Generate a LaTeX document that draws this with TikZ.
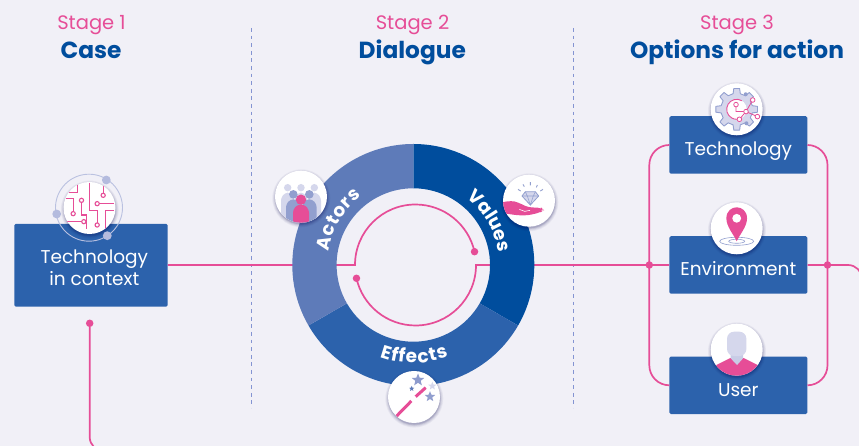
\documentclass[tikz,border=0pt]{standalone}
\usepackage{fontspec}
\setmainfont{Poppins}
\usetikzlibrary{calc,decorations.text,shapes.geometric}
\definecolor{bg}{HTML}{F1F0F7}
\definecolor{pinkc}{HTML}{E64D97}
\definecolor{navy}{HTML}{004D9D}
\definecolor{midb}{HTML}{2C62AC}
\definecolor{softb}{HTML}{5E7BB9}
\definecolor{lilac}{HTML}{D5D7EC}
\definecolor{perib}{HTML}{929FCF}
\definecolor{dashc}{HTML}{8494D2}
\tikzset{
  boxst/.style={fill=midb,rounded corners=1.5pt,text=white,minimum width=138pt,inner xsep=0pt,inner ysep=0pt,font=\fontsize{18.5}{22}\selectfont},
  optbox/.style={boxst,text height=39.75pt,text depth=17.75pt},
  stagest/.style={text=pinkc,anchor=base,inner sep=0pt,font=\fontsize{19.5}{22}\selectfont},
  titlest/.style={text=navy,anchor=base,inner sep=0pt,font=\bfseries\fontsize{23.3}{26}\selectfont},
  conn/.style={draw=pinkc,line width=1.7pt},
  dotst/.style={circle,fill=pinkc,inner sep=0pt,minimum size=7.5pt},
  iconst/.style={circle,fill=white,inner sep=0pt,minimum size=52pt},
  divider/.style={draw=dashc,line width=1.3pt,dash pattern=on 3.8pt off 3.8pt},
  starst/.style={star,star points=5,star point ratio=2.3,inner sep=0pt},
  ringlabel/.style={decorate,decoration={text along path,text align=fit to path,text={|\bfseries\fontsize{18.5}{20}\selectfont\color{white}|#1}}},
}
\newcommand{\sector}[3]{\fill[#1] ($(ringc)+(#2:121pt)$) arc[start angle=#2,end angle=#3,radius=121pt] -- ($(ringc)+(#3:76.7pt)$) arc[start angle=#3,end angle=#2,radius=76.7pt] -- cycle;}
\newcommand{\softshadow}[1]{\foreach \rr/\op in {29/.04,28.2/.05,27.4/.06,26.7/.08,26/.1}{\fill[black!70!blue,opacity=\op] ($(#1)+(0.3pt,-1.6pt)$) circle[radius=\rr pt];}}
\newcommand{\iconopen}[3]{\coordinate (#1s) at (#2,#3);\softshadow{#1s}\node[iconst] (#1) at (#1s) {};}
\newenvironment{iconart}[3]{\begin{scope}\clip (#1) circle[radius=26pt];\begin{scope}[shift={(#1)},x=0.33333pt,y=-0.33333pt]\begin{scope}[shift={(-#2,-#3)}]}{\end{scope}\end{scope}\end{scope}}
\newcommand{\person}[5]{\fill[#5] (#1,#2) circle[radius=#3 pt];\fill[#5,rounded corners=3pt] (#1-#4,200) -- (#1-#4,#2+30) -- (#1-#3*2,#2+15) -- (#1+#3*2,#2+15) -- (#1+#4,#2+30) -- (#1+#4,200) -- cycle;}
\begin{document}
\begin{tikzpicture}[x=1pt,y=1pt]
\useasboundingbox (0,0) rectangle (859,446);
\clip (0,0) rectangle (859,446);
\fill[bg] (0,0) rectangle (859,446);
% coordinates
\coordinate (ringc) at (413.3,181);
\coordinate (innerc) at (415.5,181);
\coordinate (arcL) at (355,181);
\coordinate (arcR) at (476,181);
\coordinate (busLtop) at (649.3,181);
\coordinate (busRtop) at (827.5,181);
\coordinate (exitR) at (862,165);
\coordinate (exitB) at (120,-5);
\coordinate (d1a) at (251.7,418);
\coordinate (d1b) at (251.7,38);
\coordinate (d2a) at (573.7,418);
\coordinate (d2b) at (573.7,38);
% dividers
\draw[divider] (d1a) -- (d1b);
\draw[divider] (d2a) -- (d2b);
% headers
\node[stagest] (s1) at (91.5,416.5) {Stage 1};
\node[titlest] (t1) at (91,387) {Case};
\node[stagest] (s2) at (412.5,416.5) {Stage 2};
\node[titlest] (t2) at (412.3,387) {Dialogue};
\node[stagest] (s3) at (737,416.5) {Stage 3};
\node[titlest] (t3) at (737,387) {Options for action};
% boxes
\node[optbox] (tech) at (738.3,301) {Technology};
\node[optbox] (env) at (738.3,181) {Environment};
\node[optbox] (usr) at (738.3,60.7) {User};
\node[boxst,minimum width=153.4pt,minimum height=82.7pt,align=center] (ctx) at (91,180.7) {};
\node[text=white,inner sep=0pt,align=center,font=\fontsize{18.5}{21.5}\selectfont] (ctxt) at (94.3,178.5) {Technology\\in context};
% connectors
\coordinate (ctxE) at (ctx.east |- arcL);
\draw[conn] (ctxE) -- (arcL) arc[start angle=180,end angle=12.7,radius=60.5pt] node[dotst] (dotA) {};
\draw[conn] (env.west) -- (arcR) arc[start angle=0,end angle=-167.3,radius=60.5pt] node[dotst] (dotB) {};
\draw[conn,rounded corners=20pt] (tech.west) -- (tech.west -| busLtop) -- (usr.west -| busLtop) -- (usr.west);
\draw[conn,rounded corners=20pt] (tech.east) -- (tech.east -| busRtop) -- (usr.east -| busRtop) -- (usr.east);
\draw[conn,rounded corners=14pt] (env.east) -- (env.east -| exitR) -- (exitR);
\node[dotst] (jL) at (busLtop) {};
\node[dotst] (jR) at (busRtop) {};
\node[dotst] (start) at (89.7,122.7) {};
\draw[conn,rounded corners=14pt] (start) -- (start |- exitB) -- (exitB);
% ring
\sector{navy}{90}{-30}
\sector{midb}{-30}{-150}
\sector{softb}{-150}{-270}
\path[ringlabel={Actors}] ($(ringc)+(171:86pt)$) arc[start angle=171,end angle=127,radius=86pt];
\path[ringlabel={Values}] ($(ringc)+(52:86pt)$) arc[start angle=52,end angle=8,radius=86pt];
\path[ringlabel={Effects}] ($(ringc)+(250:98pt)$) arc[start angle=250,end angle=291,radius=98pt];
% ---- context icon
\coordinate (ctxic) at (89.5,238);
\softshadow{ctxic}
\node[iconst] (ctxicon) at (ctxic) {};
\draw[lilac!60!perib,line width=.9pt] (89,238.3) circle[radius=33.5pt];
\fill[lilac!50!perib] (106.3,266) circle[radius=4.4pt] (56.7,232) circle[radius=4.4pt] (107.3,210.3) circle[radius=4.4pt];
\begin{iconart}{ctxicon}{118}{114}
\draw[pinkc,line width=1.1pt] (118,38) -- (118,122) -- (141,122) -- (141,158);
\draw[pinkc,line width=1.1pt] (57,67) -- (82,67) -- (82,40);
\draw[pinkc,line width=1.1pt] (47,85) -- (70,85) -- (70,125);
\draw[pinkc,line width=1.1pt] (94,91) -- (94,135) -- (108,135) -- (108,178);
\draw[pinkc,line width=1.1pt] (141,101) -- (190,101);
\draw[pinkc,line width=1.1pt] (159,38) -- (159,76);
\draw[pinkc,line width=1.1pt] (101,155) -- (50,155);
\draw[pinkc,line width=1.1pt] (190,122) -- (165,122) -- (165,178);
\foreach \px/\py in {69/131,94/91,141/101,159/76,101/155,141/165}{\draw[pinkc,fill=white,line width=1.1pt] (\px,\py) circle[radius=2.1pt];}
\end{iconart}
% ---- actors
\iconopen{icA}{301}{249.3}
\begin{iconart}{icA}{93}{92}
\person{53}{65}{3.7}{20}{lilac}
\person{133}{65}{3.7}{20}{lilac}
\person{93}{65}{3.7}{20}{lilac}
\person{70}{85}{4.3}{22}{perib}
\person{118}{85}{4.3}{22}{perib}
\person{93}{101}{5.2}{24}{pinkc}
\end{iconart}
% ---- values
\iconopen{icV}{529}{245.3}
\begin{iconart}{icV}{93}{92}
\draw[perib,fill=lilac,line width=.8pt,line join=round] (82,65) -- (112,65) -- (122,78) -- (97,105) -- (72,78) -- cycle;
\draw[perib,line width=.6pt] (72,78) -- (122,78) (82,65) -- (88,78) -- (97,105) -- (106,78) -- (112,65);
\draw[perib,line width=.9pt] (60,58) -- (68,63) (75,43) -- (79,50) (97,36) -- (97,46) (118,45) -- (115,52) (135,58) -- (127,63);
\fill[pinkc,rounded corners=4pt] (5,98) -- (40,92) -- (60,97) -- (90,112) -- (130,113) -- (137,120) -- (128,127) -- (90,136) -- (60,136) -- (5,128) -- cycle;
\draw[white,line width=.6pt] (64,118) -- (80,124) -- (96,121);
\end{iconart}
% ---- effects
\iconopen{icE}{414}{49}
\begin{iconart}{icE}{90}{93}
\draw[pinkc,line width=3pt] (38,150) -- (82,105) (95,92) -- (125,65);
\node[starst,fill=perib!90!softb,minimum size=13pt] (st1) at (102,42) {};
\node[starst,fill=softb,minimum size=5.5pt] (st2) at (83,68) {};
\node[starst,fill=lilac,minimum size=8.5pt] (st3) at (145,60) {};
\node[starst,fill=perib,minimum size=11pt] (st4) at (138,92) {};
\end{iconart}
% ---- gear
\iconopen{icT}{736.7}{336.7}
\begin{scope}[shift={(icT)}]
\draw[perib,fill=lilac,line width=.9pt,line join=round] (-13:16pt)
 \foreach \a in {0,45,...,315}{ -- (\a-13:16pt) -- (\a-8:21pt) -- (\a+8:21pt) -- (\a+13:16pt) } -- cycle;
\fill[white] (0,0) circle[radius=10pt];
\draw[pinkc,line width=.9pt] (60:10pt) arc[start angle=60,end angle=300,radius=10pt];
\draw[pinkc,line width=.8pt] (-0.7,4.7) -- (-0.7,-2.3) -- (9.3,-2.3) -- (16,9.3) (9.3,-2.3) -- (20.7,-7.3) (9.3,-2.3) -- (2.7,-10);
\fill[perib] (9,15) circle[radius=2pt] (9.7,-14) circle[radius=2pt];
\foreach \px/\py in {-0.7/4.7,9.3/-2.3,16/9.3,20.7/-7.3,2.7/-10}{\draw[pinkc,fill=white,line width=.8pt] (\px,\py) circle[radius=2.3pt];}
\end{scope}
% ---- pin
\iconopen{icP}{736.7}{217.7}
\begin{iconart}{icP}{320}{445}
\draw[perib,line width=.6pt] (320,484) ellipse[x radius=17pt,y radius=4pt] (320,484) ellipse[x radius=8pt,y radius=2pt];
\fill[pinkc] (320,484) .. controls (310,462) and (289,440) .. (289,415) .. controls (289,393) and (305,382) .. (320,382) .. controls (335,382) and (351,393) .. (351,415) .. controls (351,440) and (330,462) .. (320,484) -- cycle;
\fill[white] (320,415) circle[radius=4.4pt];
\end{iconart}
% ---- user
\iconopen{icU}{736.7}{96.3}
\begin{iconart}{icU}{321}{299}
\fill[pinkc] (250,385) -- (260,345) -- (302,324) -- (342,324) -- (384,345) -- (395,385) -- cycle;
\fill[lilac!80!perib] (303,300) -- (340,300) -- (340,325) -- (322,345) -- (303,325) -- cycle;
\fill[lilac,rounded corners=7pt] (292,318) -- (292,245) -- (350,245) -- (350,318) -- cycle;
\end{iconart}
\end{tikzpicture}
\end{document}
